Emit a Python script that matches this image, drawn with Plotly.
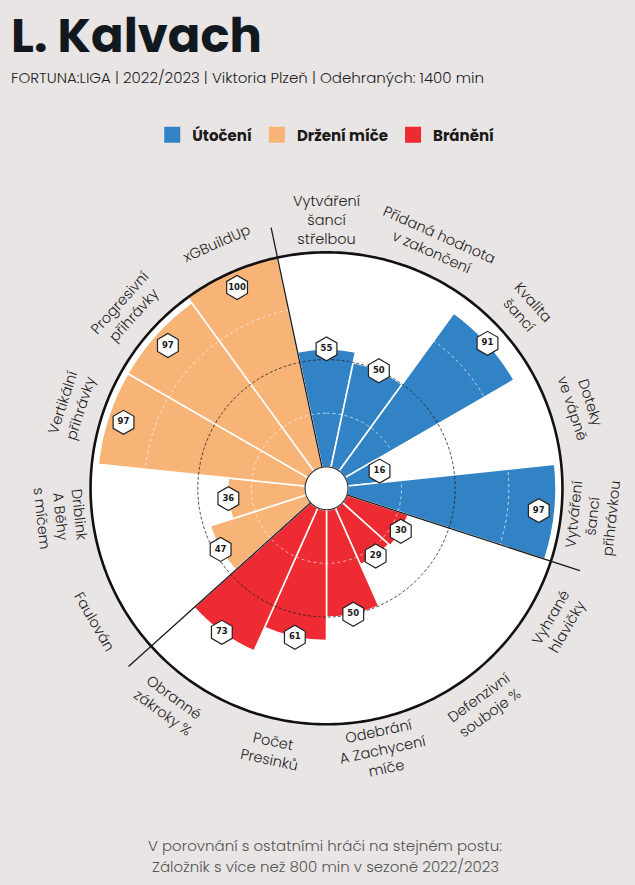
import math
import plotly.graph_objects as go

# ---------------- data ----------------
params = [
    "Vytváření<br>šancí<br>střelbou",
    "Přidaná hodnota<br>v zakončení",
    "Kvalita<br>šancí",
    "Doteky<br>ve vápně",
    "Vytváření<br>šancí<br>přihrávkou",
    "Vyhrané<br>hlavičky",
    "Defenzivní<br>souboje %",
    "Odebrání<br>A Zachycení<br>míče",
    "Počet<br>Presinků",
    "Obranné<br>zákroky %",
    "Faulován",
    "Driblink<br>A Běhy<br>s míčem",
    "Vertikální<br>přihrávky",
    "Progresivní<br>přihrávky",
    "xGBuildUp",
]
values = [55, 50, 91, 16, 97, 30, 29, 50, 61, 73, 47, 36, 97, 97, 100]
groups = ["Útočení"] * 5 + ["Bránění"] * 5 + ["Držení míče"] * 5
group_order = ["Útočení", "Držení míče", "Bránění"]
group_colors = {"Útočení": "#3283C5", "Držení míče": "#F8B377", "Bránění": "#EE2A33"}
grid_levels = [25, 50, 75]

title = "L. Kalvach"
subtitle = "FORTUNA:LIGA | 2022/2023 | Viktoria Plzeň | Odehraných: 1400 min"
footer_lines = ["V porovnání s ostatními hráči na stejném postu:",
                "Záložník s více než 800 min v sezoně 2022/2023"]

# ---------------- layout geometry ----------------
W, H = 635, 885
BG = "#E9E5E4"
CX, CY = 326.5, 488.3          # centre of the pizza (px)
RD = 270.0                     # polar domain radius (px)
K = 2.145                      # px per value unit
R_MIN = -10.0                  # radial value at the centre (makes the inner hole)
R_MAX = R_MIN + RD / K
SEP_END = 114.2                # separators run beyond the outer ring
LABEL_RPX = 268.0              # parameter label radius (px)

n = len(values)
step = 360.0 / n
thetas = [i * step for i in range(n)]

fig = go.Figure()

ring = list(range(0, 361))

# white disk (as a full-circle bar so it stays beneath the data bars)
fig.add_trace(go.Barpolar(r=[100], theta=[0], width=[360], base=0,
                          marker=dict(color="white", line=dict(width=0)),
                          hoverinfo="skip", showlegend=False))

# bars
for g in group_order:
    idx = [i for i in range(n) if groups[i] == g]
    fig.add_trace(go.Barpolar(
        r=[values[i] for i in idx], theta=[thetas[i] for i in idx],
        base=0, width=step, name=g,
        marker=dict(color=group_colors[g], line=dict(color="white", width=1.6)),
        showlegend=False, hoverinfo="skip"))

# grid rings
for lv in grid_levels:
    if lv == 50:
        ln = dict(color="#222222", width=0.8, dash="3px,2px")
    else:
        ln = dict(color="rgba(255,255,255,0.75)", width=0.9, dash="3px,3px")
    fig.add_trace(go.Scatterpolar(r=[lv] * len(ring), theta=ring, mode="lines",
                                  line=ln, hoverinfo="skip", showlegend=False))

# outer ring
fig.add_trace(go.Scatterpolar(r=[100] * len(ring), theta=ring, mode="lines",
                              line=dict(color="#111111", width=2.6),
                              hoverinfo="skip", showlegend=False))

# group separators
sep_r, sep_t = [], []
for i in range(n):
    if groups[i] != groups[i - 1]:
        a = (thetas[i] - step / 2) % 360
        sep_r += [0, SEP_END, None]
        sep_t += [a, a, None]
fig.add_trace(go.Scatterpolar(r=sep_r, theta=sep_t, mode="lines",
                              line=dict(color="#1a1a1a", width=1.3),
                              hoverinfo="skip", showlegend=False))

# inner circle
fig.add_trace(go.Scatterpolar(r=[0] * len(ring), theta=ring, mode="lines",
                              fill="toself", fillcolor="white",
                              line=dict(color="#333333", width=1.2),
                              hoverinfo="skip", showlegend=False))

# value hexagons
label_r = [v if v <= 92 else v - 7.5 for v in values]
fig.add_trace(go.Scatterpolar(
    r=label_r, theta=thetas, mode="markers+text",
    text=[str(v) for v in values], textposition="middle center",
    textfont=dict(family="DejaVu Sans", size=8.5, color="#1a1a1a", weight="bold"),
    marker=dict(symbol="hexagon", size=24, color="white",
                line=dict(color="#222222", width=1.2)),
    cliponaxis=False, hoverinfo="skip", showlegend=False))

# legend entries
for g in group_order:
    fig.add_trace(go.Scatterpolar(r=[None], theta=[None], mode="markers", name=g,
                                  marker=dict(symbol="square", size=16,
                                              color=group_colors[g]),
                                  showlegend=True))

# parameter labels
LABEL_FONT = dict(family="Poppins, Inter, sans-serif", size=14.5, color="#1f1f1f",
                  weight=300)
annotations = []
for t, p in zip(thetas, params):
    rad = math.radians(t)
    px = CX + LABEL_RPX * math.sin(rad)
    py = CY - LABEL_RPX * math.cos(rad)
    if 90 < t < 270:
        ang = t - 180
    elif t >= 270:
        ang = t - 360
    else:
        ang = t
    annotations.append(dict(x=px / W, y=1 - py / H, xref="paper", yref="paper",
                            text=p, showarrow=False, textangle=ang,
                            xanchor="center", yanchor="middle", align="center",
                            font=LABEL_FONT))

annotations.append(dict(x=9 / W, y=1.0, xref="paper", yref="paper",
                        text=title, showarrow=False, xanchor="left", yanchor="top",
                        font=dict(family="Poppins, Inter, sans-serif", size=48,
                                  color="#121820", weight=700)))
annotations.append(dict(x=9 / W, y=1 - 78 / H, xref="paper", yref="paper",
                        text=subtitle, showarrow=False, xanchor="left", yanchor="middle",
                        font=dict(family="Poppins, Inter, sans-serif", size=15,
                                  color="#1f1f1f", weight=300)))
for line, ypx in zip(footer_lines, [845.7, 866.7]):
    annotations.append(dict(x=325 / W, y=1 - ypx / H, xref="paper", yref="paper",
                            text=line, showarrow=False, xanchor="center",
                            yanchor="middle",
                            font=dict(family="Poppins, Inter, sans-serif", size=15,
                                      color="#555555", weight=300)))

fig.update_layout(
    width=W, height=H,
    margin=dict(l=0, r=0, t=0, b=0),
    paper_bgcolor=BG, plot_bgcolor=BG,
    showlegend=True,
    legend=dict(orientation="h", x=0.513, xanchor="center", y=1 - 135 / H,
                yanchor="middle", bgcolor="rgba(0,0,0,0)",
                font=dict(family="Poppins, Inter, sans-serif", size=15,
                          color="#1a1a1a", weight=700)),
    polar=dict(
        domain=dict(x=[(CX - RD) / W, (CX + RD) / W],
                    y=[(H - CY - RD) / H, (H - CY + RD) / H]),
        bgcolor="rgba(0,0,0,0)",
        radialaxis=dict(range=[R_MIN, R_MAX], visible=False),
        angularaxis=dict(rotation=90, direction="clockwise", visible=False),
        barmode="overlay",
    ),
    annotations=annotations,
)

fig.write_html("out.html",
               config={"displayModeBar": False},
               post_script="document.body.style.margin='0';"
                           "document.body.style.background='" + BG + "';")
